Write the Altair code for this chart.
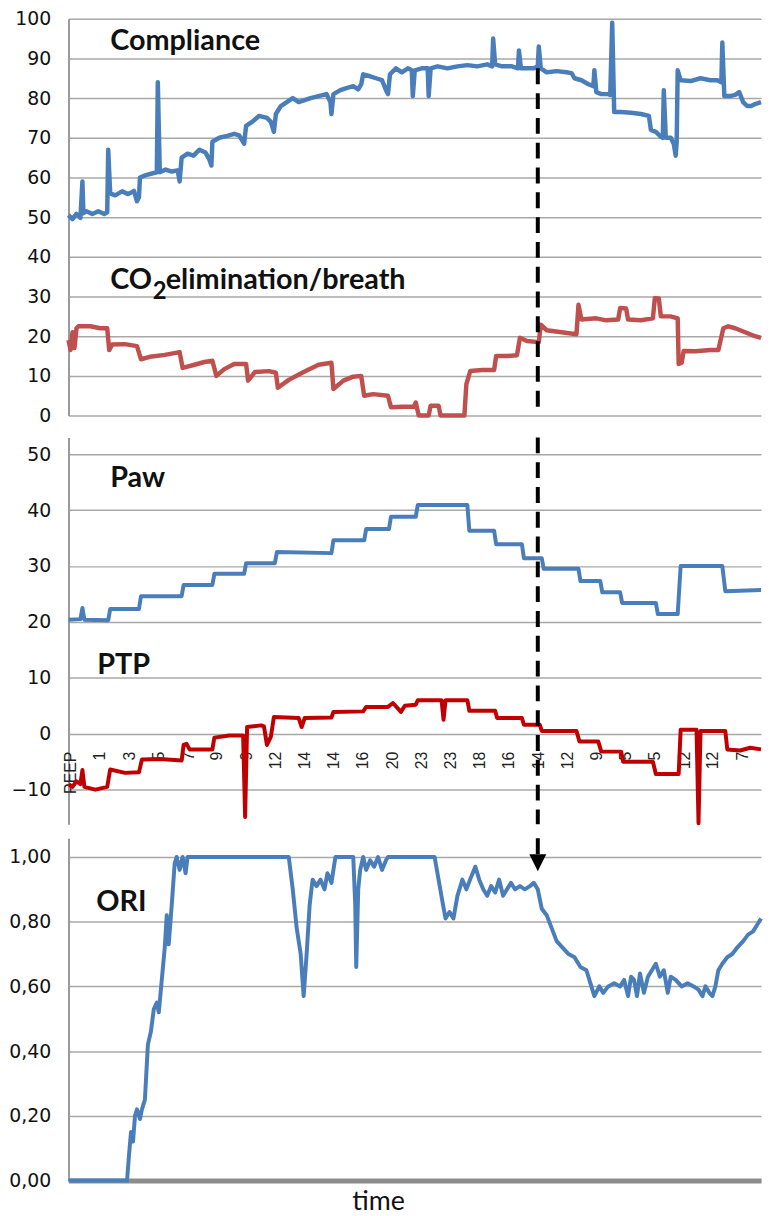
import altair as alt
import pandas as pd

# ---------------- data (time in arbitrary units, values as read) ----------------
COMPLIANCE = [(-3, 50.5), (1, 49.5), (5, 50.8), (9, 49.8), (11, 59), (12, 51), (15, 51.5), (21, 50.8),
              (27, 51.5), (33, 50.8), (36, 51.2), (37, 67), (39, 56), (44, 55.5), (51, 56.5), (57, 55.8),
              (63, 56.6), (66, 54), (68, 55), (69, 60), (75, 60.6), (81, 61), (86, 61.3), (87, 84),
              (89, 61.3), (95, 62), (101, 61.5), (107, 61.8), (109, 59), (111, 65), (117, 66), (123, 65.5),
              (129, 67), (135, 66.3), (139, 64.5), (141, 63), (142, 69), (149, 70), (157, 70.5), (164, 71),
              (169, 70.6), (174, 68.5), (176, 73), (182, 74), (189, 75.5), (197, 75), (201, 74), (204, 71.5),
              (206, 76), (211, 78), (217, 79), (223, 80), (229, 79), (235, 79.5), (241, 80), (249, 80.5),
              (257, 81), (261, 79), (262, 76), (264, 81), (271, 82), (277, 82.5), (284, 83), (289, 82.2),
              (292, 83.5), (294, 86), (301, 85.5), (307, 85), (313, 84.5), (317, 82), (319, 81), (321, 86),
              (327, 87.5), (333, 86.5), (339, 87.5), (343, 87), (344, 80.5), (346, 87), (353, 87.5),
              (359, 87.5), (360, 80.5), (362, 87.5), (369, 88), (379, 87.5), (389, 88), (399, 88.3),
              (409, 88), (419, 88.5), (424, 88), (425, 95), (427, 88.5), (434, 88), (444, 88), (450, 87.5),
              (451, 92), (453, 87.5), (459, 87.5), (466, 87.5), (470, 88), (471, 93), (473, 87.5),
              (479, 86.5), (489, 86.8), (499, 86.5), (504, 86.3), (507, 85), (514, 84.5), (521, 83.5),
              (526, 83), (527, 87), (529, 81.5), (534, 81), (541, 81), (543, 80.8), (545, 99), (547, 76.5),
              (554, 76.5), (564, 76.3), (574, 76), (582, 75.5), (584, 72), (589, 71.5), (593, 70.5),
              (596, 70), (597, 82), (599, 70), (604, 70), (607, 68.5), (609, 65.5), (610, 69), (611, 87),
              (614, 84.5), (624, 84.3), (634, 85), (644, 84.5), (651, 84.5), (655, 84), (656, 94),
              (658, 80.5), (664, 80.5), (669, 80.8), (673, 81.5), (677, 79), (681, 78), (685, 78),
              (689, 78.5), (695, 79)]

CO2_ELIM = [(-3, 19), (-1, 16.5), (1, 21), (3, 17), (5, 22), (7, 22.5), (19, 22.5), (29, 22), (36, 22),
            (38, 16.5), (41, 17.9), (54, 18), (66, 17.5), (70, 14.2), (79, 14.8), (94, 15.3), (109, 16),
            (112, 12), (124, 12.8), (134, 13.5), (142, 13.8), (146, 10), (154, 11.7), (164, 13), (176, 13),
            (178, 8.8), (185, 11), (199, 11.2), (206, 10.8), (208, 7), (219, 9), (234, 11), (249, 12.8),
            (262, 13.3), (264, 6.7), (274, 8.8), (284, 9.8), (292, 10), (295, 5), (304, 5.4), (319, 5),
            (322, 2.1), (334, 2.2), (345, 2.2), (347, 3.3), (350, 0), (360, 0), (362, 2.5), (370, 2.5),
            (372, 0), (396, 0), (398, 7.9), (402, 11.25), (414, 11.5), (426, 11.5), (428, 15), (439, 15),
            (449, 15.2), (452, 19.6), (459, 18.8), (471, 18.5), (473, 22.9), (479, 21.5), (494, 21),
            (509, 20.5), (511, 27.9), (514, 24.2), (529, 24.5), (539, 24), (551, 24.2), (553, 27.1),
            (559, 27), (561, 24.2), (574, 24), (586, 24.5), (588, 29.6), (592, 29.5), (594, 25), (604, 25),
            (611, 24.5), (612, 13), (615, 13.3), (617, 16.25), (629, 16.2), (644, 16.5), (652, 16.5),
            (657, 22), (662, 22.5), (669, 22), (679, 21), (689, 20), (695, 19.6)]

PAW = [(-3, 20.4), (9, 20.5), (11, 22.5), (13, 20.4), (37, 20.3), (39, 22.3), (68, 22.3), (70, 24.6),
       (111, 24.6), (113, 26.6), (142, 26.6), (144, 28.6), (174, 28.6), (176, 30.5), (205, 30.5),
       (207, 32.5), (262, 32.3), (264, 34.6), (295, 34.6), (297, 36.6), (320, 36.6), (322, 38.8),
       (347, 38.8), (349, 40.9), (399, 40.9), (401, 36.3), (426, 36.3), (428, 33.9), (454, 33.9),
       (456, 31.4), (474, 31.4), (476, 29.5), (511, 29.5), (513, 27.3), (533, 27.3), (535, 25.3),
       (553, 25.3), (555, 23.4), (589, 23.4), (591, 21.4), (611, 21.4), (614, 30), (656, 30),
       (659, 25.5), (695, 25.7)]

PTP = [(-3, -9), (1, -9.5), (5, -8.5), (9, -9), (11, -6.5), (13, -9.5), (24, -10), (36, -9.5), (39, -6.4),
       (54, -7), (68, -6.9), (71, -4.6), (89, -4.5), (111, -4.8), (113, -2), (116, -1.8), (119, -2.8),
       (142, -2.8), (144, -0.7), (159, -0.3), (173, -0.3), (175, -14.9), (177, 1.2), (191, 1.5),
       (194, 1.3), (197, -2), (201, -0.5), (204, 3), (229, 2.8), (232, 1.2), (235, 2.8), (262, 2.9),
       (264, 3.9), (294, 4), (297, 4.8), (319, 4.8), (324, 5.5), (332, 3.9), (336, 5), (347, 5.2),
       (349, 6), (373, 6), (375, 2.5), (377, 6), (399, 6), (401, 4.1), (427, 4.1), (429, 2.8), (454, 2.8),
       (456, 1.6), (472, 1.6), (474, 0.5), (509, 0.5), (512, -1.4), (531, -1.4), (534, -3.2), (554, -3.2),
       (556, -5), (586, -5), (589, -7.2), (612, -7.2), (614, 0.7), (630, 0.7), (632, -16), (634, 0.5),
       (659, 0.5), (661, -2.8), (674, -3), (684, -2.5), (695, -2.8)]

ORI = [(-3, 0), (56, 0), (58, 0.08), (60, 0.15), (62, 0.12), (64, 0.2), (66, 0.22), (69, 0.19), (71, 0.22),
       (74, 0.25), (77, 0.42), (80, 0.46), (83, 0.53), (86, 0.55), (88, 0.52), (91, 0.62), (94, 0.72),
       (96, 0.82), (98, 0.73), (101, 0.85), (104, 0.98), (106, 1.0), (109, 0.96), (112, 1.0), (115, 0.95),
       (117, 1.0), (219, 1.0), (223, 0.9), (227, 0.78), (231, 0.7), (234, 0.57), (237, 0.7), (240, 0.85),
       (243, 0.93), (247, 0.91), (251, 0.93), (255, 0.9), (258, 0.95), (262, 0.92), (266, 1.0), (284, 1.0),
       (286, 0.85), (287, 0.66), (289, 0.9), (291, 0.96), (294, 1.0), (297, 0.96), (301, 0.99), (305, 0.97),
       (309, 1.0), (313, 0.96), (317, 0.99), (319, 1.0), (366, 1.0), (370, 0.93), (374, 0.86), (377, 0.81),
       (381, 0.83), (385, 0.81), (389, 0.88), (394, 0.93), (398, 0.9), (403, 0.94), (407, 0.97),
       (411, 0.93), (415, 0.9), (419, 0.88), (423, 0.91), (427, 0.89), (431, 0.93), (435, 0.88), (439, 0.9),
       (443, 0.92), (447, 0.9), (452, 0.91), (457, 0.9), (462, 0.91), (466, 0.92), (470, 0.9), (474, 0.84),
       (479, 0.82), (484, 0.78), (489, 0.74), (495, 0.72), (501, 0.7), (507, 0.69), (513, 0.66),
       (519, 0.65), (524, 0.6), (527, 0.57), (532, 0.6), (536, 0.58), (541, 0.6), (547, 0.61), (553, 0.6),
       (557, 0.62), (561, 0.57), (564, 0.63), (567, 0.62), (570, 0.57), (573, 0.64), (577, 0.58),
       (581, 0.63), (585, 0.65), (589, 0.67), (593, 0.63), (597, 0.65), (601, 0.58), (604, 0.63),
       (609, 0.62), (615, 0.6), (621, 0.61), (627, 0.6), (632, 0.59), (636, 0.57), (639, 0.6), (643, 0.58),
       (646, 0.57), (649, 0.6), (652, 0.65), (656, 0.67), (661, 0.69), (666, 0.7), (671, 0.72), (677, 0.74),
       (682, 0.76), (687, 0.77), (691, 0.79), (695, 0.81)]

PEEP_LABELS = ["PEEP", "1", "3", "5", "7", "9", "9", "12", "14", "14", "16", "20",
               "23", "23", "18", "16", "14", "12", "9", "5", "5", "12", "12", "7"]
PEEP_TIMES = [0, 29, 59, 88, 118, 147, 177, 206, 235, 265, 294, 324,
              353, 383, 412, 441, 471, 500, 530, 559, 588, 618, 647, 677]
MARK_TIME = 470

# ---------------- styling ----------------
BLUE = "#4a7ebb"
BRICK = "#c0504d"
RED = "#c00000"
W = 698
X_DOMAIN = [-3, 695]
TITLE_FONT = "Lato"


def frame(pairs):
    return pd.DataFrame({"time": [p[0] for p in pairs],
                         "value": [p[1] for p in pairs],
                         "order": list(range(len(pairs)))})


X = alt.X("time:Q", scale=alt.Scale(domain=X_DOMAIN, nice=False, zero=False), axis=None)
X_C = alt.X("time:Q", scale=alt.Scale(domain=X_DOMAIN, nice=False, zero=False),
            axis=alt.Axis(title="time", labels=False, ticks=False, grid=False,
                          domainColor="#8c8c8c", domainWidth=5,
                          titleFont=TITLE_FONT, titleFontSize=27, titleFontWeight="normal",
                          titleColor="#111111", titlePadding=8, titleX=312))


def y_enc(domain, values, label_expr=None):
    kw = dict(values=values, title=None, grid=True, gridColor="#a8a8a8", gridWidth=1.5,
              ticks=False, labelPadding=18, labelFont="DejaVu Sans", labelFontSize=19,
              labelColor="#111111", domainColor="#9a9a9a", domainWidth=2,
              minExtent=60, maxExtent=60)
    if label_expr:
        kw["labelExpr"] = label_expr
    return alt.Y("value:Q", scale=alt.Scale(domain=domain, nice=False, zero=False), axis=alt.Axis(**kw))


def line(pairs, color, width, Y, Xe=X):
    return alt.Chart(frame(pairs)).mark_line(color=color, strokeWidth=width, strokeJoin="round").encode(
        x=Xe, y=Y, order="order:Q")


def note(text, t, v, size, Y, Xe=X):
    return alt.Chart(pd.DataFrame({"time": [t], "value": [v], "label": [text]})).mark_text(
        align="left", baseline="alphabetic", font=TITLE_FONT, fontSize=size, fontWeight="bold",
        color="#111111").encode(x=Xe, y=Y, text="label:N")


def dash(v1, v2, Y, Xe=X):
    return alt.Chart(pd.DataFrame({"time": [MARK_TIME], "value": [v1], "value2": [v2]})).mark_rule(
        color="black", strokeWidth=4, strokeDash=[16, 9]).encode(x=Xe, y=Y, y2="value2:Q")


# ---------------- panel A: Compliance + CO2 elimination ----------------
YA = y_enc([0, 100], list(range(0, 101, 10)))
panel_a = alt.layer(
    line(COMPLIANCE, BLUE, 4.5, YA),
    line(CO2_ELIM, BRICK, 4.5, YA),
    note("Compliance", 39, 92, 29, YA),
    note("CO", 39, 32, 29, YA),
    note("2", 82, 29.3, 24, YA),
    note("elimination/breath", 95, 32, 29, YA),
    dash(87.5, 0, YA),
).properties(width=W, height=400)

# ---------------- panel B: Paw + PTP ----------------
YB = y_enc([-16.2, 53], list(range(-10, 51, 10)))
peep_df = pd.DataFrame({"time": PEEP_TIMES, "label": PEEP_LABELS, "value": [-3.2] * len(PEEP_TIMES)})
peep_text = alt.Chart(peep_df).mark_text(
    angle=270, align="right", baseline="middle", font="Liberation Sans", fontSize=16,
    color="#222222").encode(x=X, y=YB, text="label:N")
panel_b = alt.layer(
    peep_text,
    line(PAW, BLUE, 4, YB),
    line(PTP, RED, 4, YB),
    note("Paw", 39, 44.1, 29, YB),
    note("PTP", 26, 10.6, 29, YB),
    dash(53, -16.2, YB),
).properties(width=W, height=390)

# ---------------- panel C: ORI ----------------
YC = y_enc([0, 1.058], [0, 0.2, 0.4, 0.6, 0.8, 1.0],
           label_expr="replace(format(datum.value, '.2f'), '.', ',')")
arrow = alt.Chart(pd.DataFrame({"time": [MARK_TIME], "value": [0.982]})).mark_point(
    shape="M-1,-1L1,-1L0,1Z", size=290, filled=True, color="black", opacity=1).encode(x=X_C, y=YC)
panel_c = alt.layer(
    line(ORI, BLUE, 4, YC, X_C),
    note("ORI", 25, 0.833, 29, YC, X_C),
    dash(1.058, 0.985, YC, X_C),
    arrow,
).properties(width=W, height=345)

chart = alt.vconcat(panel_a, panel_b, panel_c, spacing=10).properties(
    padding={"left": 0, "top": -3, "right": 0, "bottom": 0}
).configure_view(stroke=None)

chart.save("out.html", embed_options={"renderer": "svg", "actions": False})
